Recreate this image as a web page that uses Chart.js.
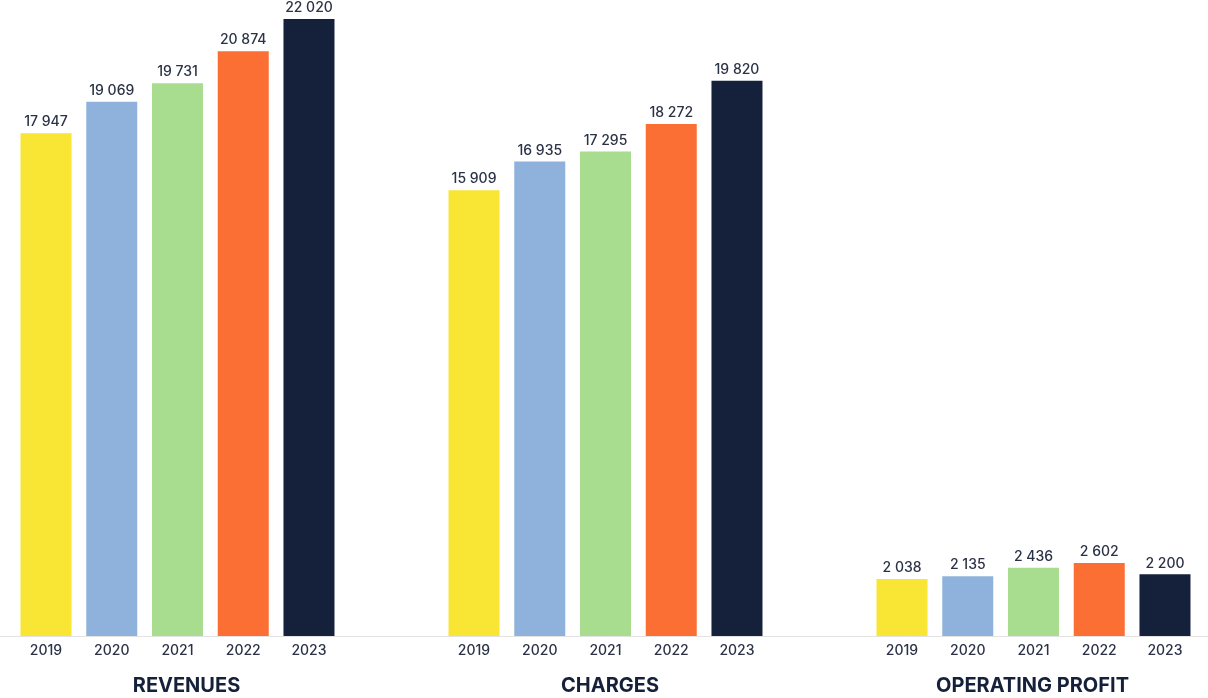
<!DOCTYPE html>
<html>
<head>
<meta charset="utf-8">
<script src="https://cdn.jsdelivr.net/npm/chart.js@4/dist/chart.umd.min.js"></script>
<style>
  html, body { margin: 0; padding: 0; background: #fff; }
  #wrap { width: 1208px; height: 698px; position: relative; }
</style>
</head>
<body>
<div id="wrap"><canvas id="myChart"></canvas></div>
<script>
var groups = ['REVENUES', 'CHARGES', 'OPERATING PROFIT'];
var years = ['2019', '2020', '2021', '2022', '2023'];
var revenues = [17947, 19069, 19731, 20874, 22020];
var charges = [15909, 16935, 17295, 18272, 19820];
var operatingProfit = [2038, 2135, 2436, 2602, 2200];
var colors = ['#f9e534', '#8fb2dd', '#a8dc8f', '#fb6f34', '#15213b'];

var series = [revenues, charges, operatingProfit];
var textColor = '#2b3246';
var groupLabelShift = [9, 4.5, -1];

function formatNumber(n) {
  return n.toString().replace(/\B(?=(\d{3})+(?!\d))/g, ' ');
}

// one dataset per year, one x position per group
var datasets = years.map(function (year, i) {
  return {
    label: year,
    data: series.map(function (s, g) { return { x: g, y: s[i] }; }),
    backgroundColor: colors[i],
    categoryPercentage: 0.768,
    barPercentage: 0.776
  };
});

// value above each bar, year under it, group name below the years
var barLabels = {
  id: 'barLabels',
  afterDatasetsDraw: function (chart) {
    var ctx = chart.ctx;
    var bottom = chart.chartArea.bottom;
    var xScale = chart.scales.x;
    ctx.save();
    ctx.textAlign = 'center';
    ctx.textBaseline = 'middle';
    ctx.fillStyle = textColor;
    ctx.font = '500 14px Inter';
    chart.data.datasets.forEach(function (ds, i) {
      var meta = chart.getDatasetMeta(i);
      meta.data.forEach(function (bar, j) {
        ctx.fillText(formatNumber(ds.data[j].y), bar.x, bar.y - 11);
        ctx.fillText(ds.label, bar.x, bottom + 15);
      });
    });
    ctx.fillStyle = '#15213b';
    ctx.font = '700 20px Inter';
    groups.forEach(function (g, i) {
      ctx.fillText(g, xScale.getPixelForValue(i) + groupLabelShift[i], bottom + 50);
    });
    ctx.restore();
  }
};

var ctx = document.getElementById('myChart').getContext('2d');
var groupWidth = 428;
var firstCenter = 177.5;
var myChart = new Chart(ctx, {
  type: 'bar',
  data: { datasets: datasets },
  options: {
    responsive: true,
    maintainAspectRatio: false,
    animation: false,
    layout: { padding: { top: 0, left: 0, right: 0, bottom: 62 } },
    plugins: {
      legend: { display: false },
      tooltip: { enabled: false }
    },
    scales: {
      x: {
        type: 'linear',
        offset: false,
        min: -firstCenter / groupWidth,
        max: (1208 - firstCenter) / groupWidth,
        // one tick per group so bars are sized against the group spacing
        afterBuildTicks: function (axis) {
          axis.ticks = groups.map(function (g, i) { return { value: i }; });
        },
        grid: { display: false, drawTicks: false },
        border: { display: true, color: '#e2e2e2', width: 1 },
        ticks: { display: false }
      },
      y: {
        display: false,
        min: 0,
        max: 22700
      }
    }
  },
  plugins: [barLabels]
});
</script>
</body>
</html>
